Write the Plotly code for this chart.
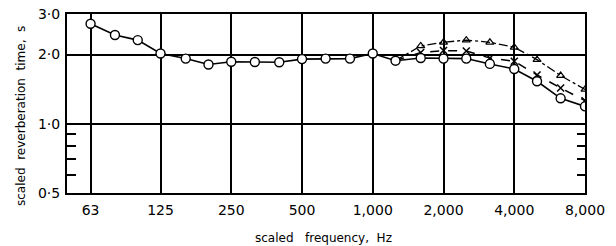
import plotly.graph_objects as go

freq_circles = [63, 80, 100, 125, 160, 200, 250, 315, 400, 500, 630, 800, 1000,
                1250, 1600, 2000, 2500, 3150, 4000, 5000, 6300, 8000]
rt_circles = [2.72, 2.43, 2.31, 2.02, 1.92, 1.81, 1.86, 1.855, 1.85, 1.91, 1.92, 1.92, 2.02,
              1.88, 1.93, 1.92, 1.92, 1.82, 1.73, 1.53, 1.29, 1.19]

freq_cross = [1250, 1600, 2000, 2500, 3150, 4000, 5000, 6300, 8000]
rt_cross = [1.88, 2.04, 2.08, 2.07, 1.93, 1.87, 1.63, 1.43, 1.26]

freq_tri = [1250, 1600, 2000, 2500, 3150, 4000, 5000, 6300, 8000]
rt_tri = [1.88, 2.18, 2.26, 2.31, 2.26, 2.15, 1.9, 1.62, 1.41]

x_tickvals = [63, 125, 250, 500, 1000, 2000, 4000, 8000]
x_ticktext = ["63", "125", "250", "500", "1,000", "2,000", "4,000", "8,000"]
y_tickvals = [0.5, 1.0, 2.0, 3.0]
y_ticktext = ["0·5", "1·0", "2·0", "3·0"]
y_minor = [0.6, 0.7, 0.8, 0.9]

font = "DejaVu Sans"
fig = go.Figure()

fig.add_trace(go.Scatter(x=freq_tri, y=rt_tri, mode="lines+markers",
                         line=dict(color="black", width=1.3, dash="dashdot"),
                         marker=dict(symbol="triangle-up-open", size=7, color="black",
                                     line=dict(width=1.2))))
fig.add_trace(go.Scatter(x=freq_cross, y=rt_cross, mode="lines+markers",
                         line=dict(color="black", width=1.5, dash="dash"),
                         marker=dict(symbol="x-thin-open", size=7, color="black",
                                     line=dict(width=1.5, color="black"))))
fig.add_trace(go.Scatter(x=freq_circles, y=rt_circles, mode="lines+markers",
                         line=dict(color="black", width=1.6),
                         marker=dict(symbol="circle", size=9, color="white",
                                     line=dict(width=1.4, color="black"))))
# invisible trace to anchor the right-side axis
fig.add_trace(go.Scatter(x=[63], y=[1.0], yaxis="y2", mode="markers",
                         marker=dict(opacity=0), hoverinfo="skip"))

fig.update_layout(
    width=616, height=246,
    margin=dict(l=67, r=31, t=14, b=53),
    paper_bgcolor="white", plot_bgcolor="white",
    showlegend=False,
    font=dict(family=font, color="black"),
    xaxis=dict(type="log", range=[1.699, 3.90309], automargin=False,
               tickvals=x_tickvals, ticktext=x_ticktext,
               tickfont=dict(size=14), showgrid=True, gridcolor="black", gridwidth=2,
               showline=True, linecolor="black", linewidth=2, mirror=True,
               ticks="outside", ticklen=3, tickcolor="rgba(0,0,0,0)", zeroline=False),
    yaxis=dict(type="log", range=[-0.30103, 0.4771], automargin=False,
               tickvals=y_tickvals, ticktext=y_ticktext,
               tickfont=dict(size=14), showgrid=True, gridcolor="black", gridwidth=2,
               showline=True, linecolor="black", linewidth=2, mirror=True,
               ticks="outside", ticklen=2, tickcolor="rgba(0,0,0,0)", zeroline=False,
               minor=dict(tickvals=y_minor, ticks="inside", ticklen=9,
                          tickcolor="black", tickwidth=1.5, showgrid=False)),
    yaxis2=dict(type="log", range=[-0.30103, 0.4771], overlaying="y", side="right",
                automargin=False, showticklabels=False,
                tickvals=y_minor, ticks="inside", ticklen=8,
                tickcolor="black", tickwidth=1.5, showgrid=False, zeroline=False,
                showline=False),
    annotations=[
        dict(text="scaled   frequency,  Hz", showarrow=False, font=dict(size=12),
             xref="paper", yref="paper"),
        dict(text="scaled  reverberation  time,  s", textangle=-90, font=dict(size=12),
             showarrow=False, xref="paper", yref="paper"),
    ],
)

# position titles in pixel terms converted to paper coords
pw = 616 - 67 - 31
ph = 246 - 14 - 53
fig.layout.annotations[0].update(x=(323 - 67) / pw, y=(246 - 53 - 238) / ph,
                                 xanchor="center", yanchor="middle")
fig.layout.annotations[1].update(x=(21 - 67) / pw, y=(246 - 53 - 116) / ph,
                                 xanchor="center", yanchor="middle")

fig.write_html("out.html", config={"displayModeBar": False},
               post_script="document.body.style.margin='0px';document.body.style.padding='0px';")
